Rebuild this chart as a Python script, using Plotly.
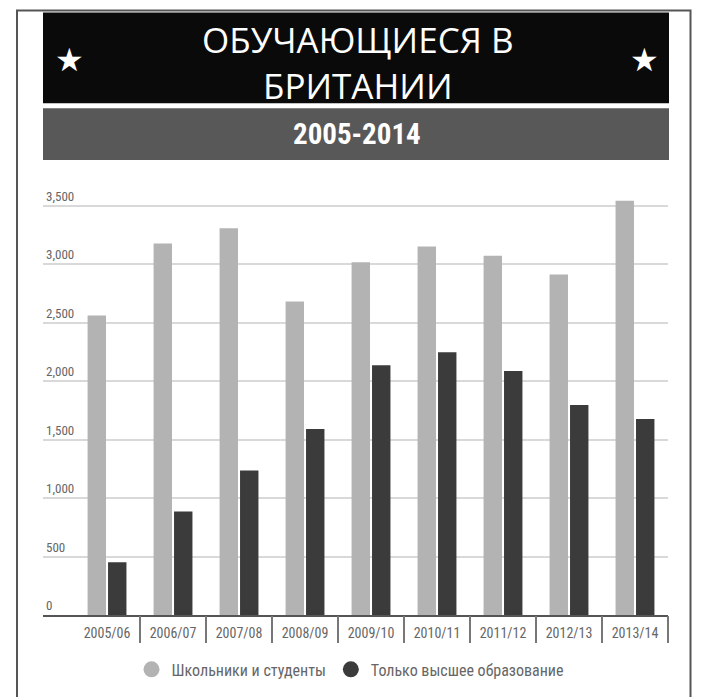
import plotly.graph_objects as go

categories = ["2005/06", "2006/07", "2007/08", "2008/09", "2009/10",
              "2010/11", "2011/12", "2012/13", "2013/14"]
school_students = [2560, 3175, 3305, 2680, 3015, 3150, 3070, 2910, 3540]
higher_ed_only = [450, 885, 1235, 1590, 2135, 2245, 2085, 1795, 1675]
y_ticks = [0, 500, 1000, 1500, 2000, 2500, 3000, 3500]
y_tick_labels = ["0", "500", "1,000", "1,500", "2,000", "2,500", "3,000", "3,500"]
series_names = ["Школьники и студенты", "Только высшее образование"]
title_text = "ОБУЧАЮЩИЕСЯ В<br>БРИТАНИИ"
subtitle = "2005-2014"

LIGHT = "#b3b3b3"
DARK = "#3b3b3b"
NARROW = "Roboto Condensed, Liberation Sans Narrow, Arial Narrow, Roboto, sans-serif"

fig = go.Figure()
fig.add_trace(go.Bar(x=categories, y=school_students, name=series_names[0],
                     marker=dict(color=LIGHT, line=dict(width=0)), showlegend=False))
fig.add_trace(go.Bar(x=categories, y=higher_ed_only, name=series_names[1],
                     marker=dict(color=DARK, line=dict(width=0)), showlegend=False))
# legend entries with circle symbols
fig.add_trace(go.Scatter(x=[None], y=[None], mode="markers", name=series_names[0],
                         marker=dict(color=LIGHT, size=16, symbol="circle")))
fig.add_trace(go.Scatter(x=[None], y=[None], mode="markers", name=series_names[1],
                         marker=dict(color=DARK, size=16, symbol="circle")))
# invisible trace on overlay axis that draws the category separators
fig.add_trace(go.Scatter(x=categories, y=[None] * len(categories), xaxis="x2",
                         mode="markers", showlegend=False, hoverinfo="skip"))

# pixel helpers for decorative layout (paper coords)
L, R, T, B = 43, 668, 180, 616.5
def px(xp):
    return (xp - L) / (R - L)
def py(yp):
    return (B - yp) / (B - T)

shapes = [
    dict(type="rect", xref="paper", yref="paper", x0=px(17), x1=px(690.5), y0=py(705), y1=py(10),
         line=dict(color="#555555", width=2), fillcolor="rgba(0,0,0,0)", layer="below"),
    dict(type="rect", xref="paper", yref="paper", x0=px(43), x1=px(669), y0=py(103), y1=py(12),
         line=dict(width=0), fillcolor="#0a0a0a", layer="below"),
    dict(type="rect", xref="paper", yref="paper", x0=px(43), x1=px(669), y0=py(160), y1=py(108),
         line=dict(width=0), fillcolor="#585858", layer="below"),
]

title_font = dict(family="Open Sans, Liberation Sans, sans-serif", size=35, color="white", weight=400)
annotations = [
    dict(text=title_text, xref="paper", yref="paper", x=px(358), y=py(62), xanchor="center",
         yanchor="middle", showarrow=False, align="center", font=title_font),
    dict(text="★", xref="paper", yref="paper", x=px(69), y=py(60), xanchor="center",
         yanchor="middle", showarrow=False, font=dict(size=32, color="white", family="DejaVu Sans")),
    dict(text="★", xref="paper", yref="paper", x=px(644), y=py(60), xanchor="center",
         yanchor="middle", showarrow=False, font=dict(size=32, color="white", family="DejaVu Sans")),
    dict(text="<b>" + subtitle + "</b>", xref="paper", yref="paper", x=px(357), y=py(134),
         xanchor="center", yanchor="middle", showarrow=False,
         font=dict(family=NARROW, size=29, color="white")),
]

fig.update_layout(
    width=712, height=697,
    margin=dict(l=L, r=712 - R, t=T, b=697 - B),
    paper_bgcolor="white", plot_bgcolor="white",
    barmode="group", bargap=0.38, bargroupgap=0.1,
    shapes=shapes, annotations=annotations,
    showlegend=True,
    legend=dict(orientation="h", x=px(350), xanchor="center", y=py(670), yanchor="middle",
                font=dict(family=NARROW, size=16, color="#666666"), itemsizing="trace"),
    xaxis=dict(type="category", range=[-0.97, 8.5], categoryorder="array", categoryarray=categories,
               showgrid=False, showline=True, linecolor="#555555", linewidth=2,
               ticks="outside", ticklen=4, tickcolor="rgba(0,0,0,0)",
               tickfont=dict(family=NARROW, size=14, color="#666666")),
    xaxis2=dict(type="category", range=[-0.97, 8.5], categoryorder="array", categoryarray=categories,
                overlaying="x", anchor="y", side="bottom", showgrid=False, showline=False,
                ticks="outside", tickson="boundaries", ticklen=27, tickwidth=1.5,
                tickcolor="#777777", showticklabels=False),
    yaxis=dict(range=[0, 3718], tickvals=y_ticks, ticktext=y_tick_labels,
               ticklabelposition="inside top", ticks="", showgrid=True,
               gridcolor="#d9d9d9", gridwidth=1.5, zeroline=False, showline=False,
               tickfont=dict(family=NARROW, size=13, color="#666666")),
)

fig.write_html("out.html")
